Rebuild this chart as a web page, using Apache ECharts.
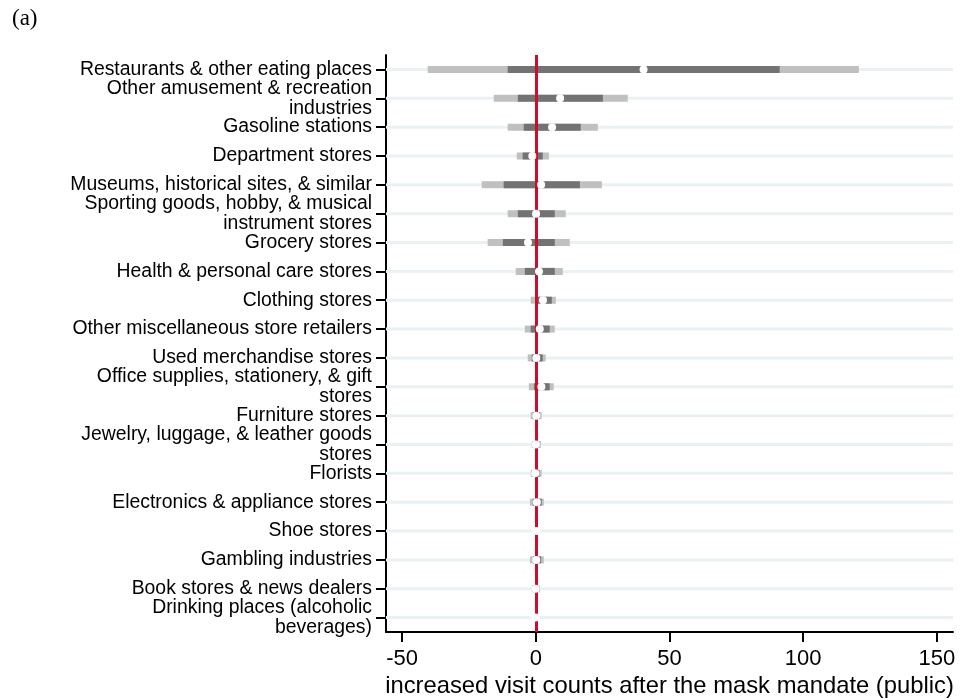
<!DOCTYPE html>
<html>
<head>
<meta charset="utf-8">
<script src="https://cdn.jsdelivr.net/npm/echarts@6/dist/echarts.min.js"></script>
<style>
  html, body { margin: 0; padding: 0; background: #fff; }
  #chart { width: 963px; height: 699px; }
</style>
</head>
<body>
<div id="chart"></div>
<script>
// industries, top to bottom
const categories = [
  "Restaurants & other eating places",
  "Other amusement & recreation\nindustries",
  "Gasoline stations",
  "Department stores",
  "Museums, historical sites, & similar",
  "Sporting goods, hobby, & musical\ninstrument stores",
  "Grocery stores",
  "Health & personal care stores",
  "Clothing stores",
  "Other miscellaneous store retailers",
  "Used merchandise stores",
  "Office supplies, stationery, & gift\nstores",
  "Furniture stores",
  "Jewelry, luggage, & leather goods\nstores",
  "Florists",
  "Electronics & appliance stores",
  "Shoe stores",
  "Gambling industries",
  "Book stores & news dealers",
  "Drinking places (alcoholic\nbeverages)"
];

// point estimates
const coef = [40.3, 9.1, 6.1, -1.3, 2.0, 0.1, -2.9, 1.2, 2.7, 1.5, 0.2, 2.1, 0.2, 0.0, -0.2, 0.4, 0.2, 0.2, -0.1, -0.1];

// inner interval (dark)
const innerLo = [-10.5, -6.7, -4.5, -4.9, -12.0, -6.7, -12.3, -4.1, 0.0, -1.9, -1.5, -0.7, -1.1, -0.8, -1.1, -1.1, -0.1, -1.0, -0.8, -0.2];
const innerHi = [91.2, 25.1, 16.8, 2.6, 16.5, 7.1, 7.1, 7.1, 6.0, 5.2, 2.6, 5.2, 1.5, 1.1, 1.3, 2.2, 0.4, 2.0, 0.8, 0.2];

// outer interval (light)
const outerLo = [-40.4, -15.7, -10.5, -7.1, -20.2, -10.5, -18.0, -7.5, -1.9, -4.1, -3.0, -2.6, -1.9, -1.5, -1.9, -2.2, -0.3, -2.2, -1.5, -0.4];
const outerHi = [120.8, 34.4, 23.2, 4.9, 24.7, 11.2, 12.7, 10.1, 7.5, 7.1, 3.7, 6.7, 2.2, 1.9, 2.2, 3.0, 0.6, 3.0, 1.5, 0.4];

const xTicks = [-50, 0, 50, 100, 150];
const xMin = -56, xMax = 156;

const chart = echarts.init(document.getElementById("chart"));

function rangeBar(color, h) {
  return function (params, api) {
    const a = api.coord([api.value(1), api.value(0)]);
    const b = api.coord([api.value(2), api.value(0)]);
    return {
      type: "rect",
      shape: { x: a[0], y: a[1] - h / 2, width: b[0] - a[0], height: h },
      style: { fill: color }
    };
  };
}

const gridRows = categories.map((c, i) => [i, xMin, xMax]);
const outerRows = categories.map((c, i) => [i, outerLo[i], outerHi[i]]);
const innerRows = categories.map((c, i) => [i, innerLo[i], innerHi[i]]);
const dots = categories.map((c, i) => [coef[i], i]);

chart.setOption({
  animation: false,
  grid: { left: 386, right: 10, top: 55, bottom: 67, outerBoundsMode: "none" },
  graphic: [{
    type: "text", left: 12, top: 7,
    style: { text: "(a)", font: "23px 'Liberation Serif'", fill: "#000" }
  }],
  xAxis: {
    type: "value", min: xMin, max: xMax,
    name: "increased visit counts after the mask mandate (public)",
    nameLocation: "middle", nameGap: 35,
    nameTextStyle: { fontFamily: "Liberation Sans", fontSize: 23.8, color: "#000" },
    axisLine: { show: true, onZero: false, lineStyle: { color: "#000", width: 2 } },
    axisTick: { show: true, customValues: xTicks, length: 10, lineStyle: { color: "#000", width: 2 } },
    axisLabel: { customValues: xTicks, fontFamily: "Liberation Sans", fontSize: 22, color: "#000", margin: 16 },
    splitLine: { show: false }
  },
  yAxis: {
    type: "category", inverse: true, data: categories,
    axisLine: { show: true, onZero: false, lineStyle: { color: "#000", width: 2 } },
    axisTick: { show: true, alignWithLabel: true, interval: 0, length: 10, lineStyle: { color: "#000", width: 2 } },
    axisLabel: { interval: 0, fontFamily: "Liberation Sans", fontSize: 19.4, lineHeight: 20, color: "#000", margin: 14, align: "right" },
    splitLine: { show: false }
  },
  series: [
    { type: "custom", z: 1, silent: true, renderItem: rangeBar("#eaf1f4", 3), data: gridRows, encode: { x: [1, 2], y: 0 } },
    { type: "custom", z: 2, silent: true, renderItem: rangeBar("#c0c0c0", 7), data: outerRows, encode: { x: [1, 2], y: 0 } },
    { type: "custom", z: 3, silent: true, renderItem: rangeBar("#737373", 7), data: innerRows, encode: { x: [1, 2], y: 0 } },
    {
      type: "scatter", z: 4, data: [], silent: true,
      markLine: {
        silent: true, symbol: "none", label: { show: false },
        lineStyle: { color: "#c8102e", width: 3, type: "solid" },
        data: [{ xAxis: 0 }]
      }
    },
    {
      type: "scatter", z: 5, data: dots, symbol: "circle", symbolSize: 8,
      itemStyle: { color: "#fff", opacity: 1 }
    }
  ]
});
</script>
</body>
</html>
